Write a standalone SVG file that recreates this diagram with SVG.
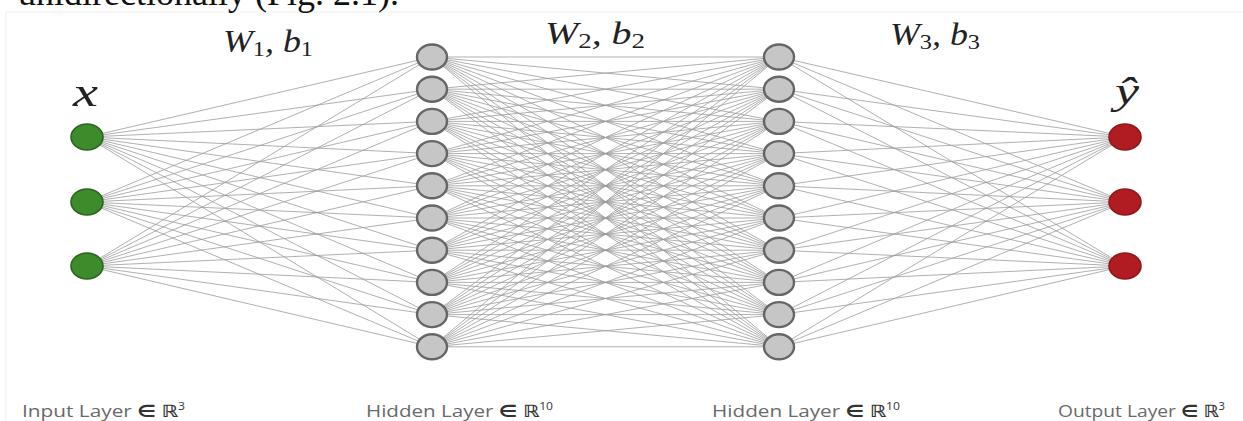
<svg xmlns="http://www.w3.org/2000/svg" width="1243" height="421" viewBox="0 0 1243 421">
<style>
.edge{fill:none;stroke:#9c9c9c;stroke-width:1;stroke-opacity:0.8}
.hid{fill:#c6c6c6;stroke:#666666;stroke-width:2.4}
.inp{fill:#3c8c2c;stroke:#2c6420;stroke-width:1.6}
.out{fill:#b01c22;stroke:#8e1a1c;stroke-width:1.6}
.math{font-family:"Liberation Serif","DejaVu Serif",serif;font-style:italic;fill:#222}
.sub{font-style:normal;font-size:21px}
.layer{font-family:"Open Sans","DejaVu Sans",sans-serif;font-size:17px;fill:#6a6a6a}
.sym{font-family:"DejaVu Sans",sans-serif;font-weight:bold;fill:#333}
.sup{font-size:10px;fill:#333}
.page{font-family:"Liberation Serif","Times New Roman",serif;font-size:36px;fill:#111}
</style>
<rect x="0" y="0" width="1243" height="421" fill="#ffffff"/>
<rect x="6" y="12" width="1240" height="412" fill="#ffffff" stroke="#f0f0f0" stroke-width="1"/>
<text class="page" x="18" y="5">unidirectionally (Fig. 2.1).</text>
<g id="connectors" class="edge">
<path d="M87 137L432 57M87 137L432 89.2M87 137L432 121.4M87 137L432 153.6M87 137L432 185.8M87 137L432 218M87 137L432 250.2M87 137L432 282.4M87 137L432 314.6M87 137L432 346.8"/>
<path d="M87 202L432 57M87 202L432 89.2M87 202L432 121.4M87 202L432 153.6M87 202L432 185.8M87 202L432 218M87 202L432 250.2M87 202L432 282.4M87 202L432 314.6M87 202L432 346.8"/>
<path d="M87 266L432 57M87 266L432 89.2M87 266L432 121.4M87 266L432 153.6M87 266L432 185.8M87 266L432 218M87 266L432 250.2M87 266L432 282.4M87 266L432 314.6M87 266L432 346.8"/>
<path d="M432 57L779 57M432 57L779 89.2M432 57L779 121.4M432 57L779 153.6M432 57L779 185.8M432 57L779 218M432 57L779 250.2M432 57L779 282.4M432 57L779 314.6M432 57L779 346.8"/>
<path d="M432 89.2L779 57M432 89.2L779 89.2M432 89.2L779 121.4M432 89.2L779 153.6M432 89.2L779 185.8M432 89.2L779 218M432 89.2L779 250.2M432 89.2L779 282.4M432 89.2L779 314.6M432 89.2L779 346.8"/>
<path d="M432 121.4L779 57M432 121.4L779 89.2M432 121.4L779 121.4M432 121.4L779 153.6M432 121.4L779 185.8M432 121.4L779 218M432 121.4L779 250.2M432 121.4L779 282.4M432 121.4L779 314.6M432 121.4L779 346.8"/>
<path d="M432 153.6L779 57M432 153.6L779 89.2M432 153.6L779 121.4M432 153.6L779 153.6M432 153.6L779 185.8M432 153.6L779 218M432 153.6L779 250.2M432 153.6L779 282.4M432 153.6L779 314.6M432 153.6L779 346.8"/>
<path d="M432 185.8L779 57M432 185.8L779 89.2M432 185.8L779 121.4M432 185.8L779 153.6M432 185.8L779 185.8M432 185.8L779 218M432 185.8L779 250.2M432 185.8L779 282.4M432 185.8L779 314.6M432 185.8L779 346.8"/>
<path d="M432 218L779 57M432 218L779 89.2M432 218L779 121.4M432 218L779 153.6M432 218L779 185.8M432 218L779 218M432 218L779 250.2M432 218L779 282.4M432 218L779 314.6M432 218L779 346.8"/>
<path d="M432 250.2L779 57M432 250.2L779 89.2M432 250.2L779 121.4M432 250.2L779 153.6M432 250.2L779 185.8M432 250.2L779 218M432 250.2L779 250.2M432 250.2L779 282.4M432 250.2L779 314.6M432 250.2L779 346.8"/>
<path d="M432 282.4L779 57M432 282.4L779 89.2M432 282.4L779 121.4M432 282.4L779 153.6M432 282.4L779 185.8M432 282.4L779 218M432 282.4L779 250.2M432 282.4L779 282.4M432 282.4L779 314.6M432 282.4L779 346.8"/>
<path d="M432 314.6L779 57M432 314.6L779 89.2M432 314.6L779 121.4M432 314.6L779 153.6M432 314.6L779 185.8M432 314.6L779 218M432 314.6L779 250.2M432 314.6L779 282.4M432 314.6L779 314.6M432 314.6L779 346.8"/>
<path d="M432 346.8L779 57M432 346.8L779 89.2M432 346.8L779 121.4M432 346.8L779 153.6M432 346.8L779 185.8M432 346.8L779 218M432 346.8L779 250.2M432 346.8L779 282.4M432 346.8L779 314.6M432 346.8L779 346.8"/>
<path d="M1125 137L779 57M1125 137L779 89.2M1125 137L779 121.4M1125 137L779 153.6M1125 137L779 185.8M1125 137L779 218M1125 137L779 250.2M1125 137L779 282.4M1125 137L779 314.6M1125 137L779 346.8"/>
<path d="M1125 202L779 57M1125 202L779 89.2M1125 202L779 121.4M1125 202L779 153.6M1125 202L779 185.8M1125 202L779 218M1125 202L779 250.2M1125 202L779 282.4M1125 202L779 314.6M1125 202L779 346.8"/>
<path d="M1125 266L779 57M1125 266L779 89.2M1125 266L779 121.4M1125 266L779 153.6M1125 266L779 185.8M1125 266L779 218M1125 266L779 250.2M1125 266L779 282.4M1125 266L779 314.6M1125 266L779 346.8"/>
</g>
<g id="input-layer">
<g id="in1"><ellipse class="inp" cx="87" cy="137" rx="16" ry="13"/></g>
<g id="in2"><ellipse class="inp" cx="87" cy="202" rx="16" ry="13"/></g>
<g id="in3"><ellipse class="inp" cx="87" cy="266" rx="16" ry="13"/></g>
</g>
<g id="hidden-layer-1">
<g id="h1-1"><ellipse class="hid" cx="432" cy="57" rx="15" ry="12.5"/></g>
<g id="h1-2"><ellipse class="hid" cx="432" cy="89.2" rx="15" ry="12.5"/></g>
<g id="h1-3"><ellipse class="hid" cx="432" cy="121.4" rx="15" ry="12.5"/></g>
<g id="h1-4"><ellipse class="hid" cx="432" cy="153.6" rx="15" ry="12.5"/></g>
<g id="h1-5"><ellipse class="hid" cx="432" cy="185.8" rx="15" ry="12.5"/></g>
<g id="h1-6"><ellipse class="hid" cx="432" cy="218" rx="15" ry="12.5"/></g>
<g id="h1-7"><ellipse class="hid" cx="432" cy="250.2" rx="15" ry="12.5"/></g>
<g id="h1-8"><ellipse class="hid" cx="432" cy="282.4" rx="15" ry="12.5"/></g>
<g id="h1-9"><ellipse class="hid" cx="432" cy="314.6" rx="15" ry="12.5"/></g>
<g id="h1-10"><ellipse class="hid" cx="432" cy="346.8" rx="15" ry="12.5"/></g>
</g>
<g id="hidden-layer-2">
<g id="h2-1"><ellipse class="hid" cx="779" cy="57" rx="15" ry="12.5"/></g>
<g id="h2-2"><ellipse class="hid" cx="779" cy="89.2" rx="15" ry="12.5"/></g>
<g id="h2-3"><ellipse class="hid" cx="779" cy="121.4" rx="15" ry="12.5"/></g>
<g id="h2-4"><ellipse class="hid" cx="779" cy="153.6" rx="15" ry="12.5"/></g>
<g id="h2-5"><ellipse class="hid" cx="779" cy="185.8" rx="15" ry="12.5"/></g>
<g id="h2-6"><ellipse class="hid" cx="779" cy="218" rx="15" ry="12.5"/></g>
<g id="h2-7"><ellipse class="hid" cx="779" cy="250.2" rx="15" ry="12.5"/></g>
<g id="h2-8"><ellipse class="hid" cx="779" cy="282.4" rx="15" ry="12.5"/></g>
<g id="h2-9"><ellipse class="hid" cx="779" cy="314.6" rx="15" ry="12.5"/></g>
<g id="h2-10"><ellipse class="hid" cx="779" cy="346.8" rx="15" ry="12.5"/></g>
</g>
<g id="output-layer">
<g id="out1"><ellipse class="out" cx="1125" cy="137" rx="16" ry="13"/></g>
<g id="out2"><ellipse class="out" cx="1125" cy="202" rx="16" ry="13"/></g>
<g id="out3"><ellipse class="out" cx="1125" cy="266" rx="16" ry="13"/></g>
</g>
<g id="labels">
<text class="math" x="73" y="106" font-size="42" textLength="25" lengthAdjust="spacingAndGlyphs">x</text>
<text class="math" x="1115" y="104" font-size="38" textLength="24" lengthAdjust="spacingAndGlyphs">ŷ</text>
<text class="math" x="223" y="52" font-size="31" textLength="90" lengthAdjust="spacingAndGlyphs">W<tspan class="sub" dy="4">1</tspan><tspan dy="-4">, b</tspan><tspan class="sub" dy="4">1</tspan></text>
<text class="math" x="545" y="44" font-size="31" textLength="100" lengthAdjust="spacingAndGlyphs">W<tspan class="sub" dy="4">2</tspan><tspan dy="-4">, b</tspan><tspan class="sub" dy="4">2</tspan></text>
<text class="math" x="890" y="45" font-size="31" textLength="90" lengthAdjust="spacingAndGlyphs">W<tspan class="sub" dy="4">3</tspan><tspan dy="-4">, b</tspan><tspan class="sub" dy="4">3</tspan></text>
<text class="layer" x="22" y="417" textLength="163" lengthAdjust="spacingAndGlyphs">Input Layer <tspan class="sym">∈</tspan> <tspan class="sym">ℝ</tspan><tspan class="sup" dy="-7">3</tspan></text>
<text class="layer" x="366" y="417" textLength="187" lengthAdjust="spacingAndGlyphs">Hidden Layer <tspan class="sym">∈</tspan> <tspan class="sym">ℝ</tspan><tspan class="sup" dy="-7">10</tspan></text>
<text class="layer" x="712" y="417" textLength="188" lengthAdjust="spacingAndGlyphs">Hidden Layer <tspan class="sym">∈</tspan> <tspan class="sym">ℝ</tspan><tspan class="sup" dy="-7">10</tspan></text>
<text class="layer" x="1058" y="417" textLength="167" lengthAdjust="spacingAndGlyphs">Output Layer <tspan class="sym">∈</tspan> <tspan class="sym">ℝ</tspan><tspan class="sup" dy="-7">3</tspan></text>
</g>
</svg>
